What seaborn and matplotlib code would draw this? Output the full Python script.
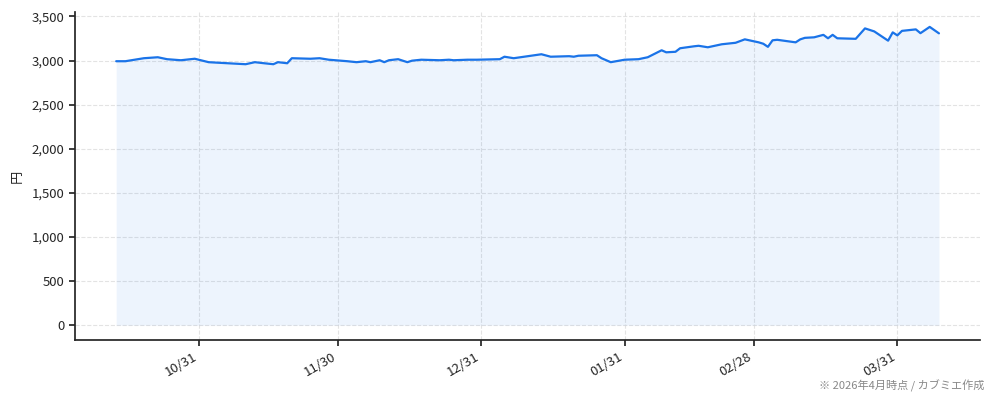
import pandas as pd
import matplotlib.pyplot as plt
import matplotlib.dates as mdates
from matplotlib.ticker import FuncFormatter
import seaborn as sns

# 株価の推移（画像から読み取った概算値）
dates = [
    "2025-10-13", "2025-10-15", "2025-10-19", "2025-10-22", "2025-10-24", "2025-10-27", "2025-10-30",
    "2025-11-02", "2025-11-04", "2025-11-10", "2025-11-12", "2025-11-14", "2025-11-16", "2025-11-17",
    "2025-11-19", "2025-11-20", "2025-11-24", "2025-11-26", "2025-11-28",
    "2025-12-02", "2025-12-04", "2025-12-06", "2025-12-07", "2025-12-09", "2025-12-10", "2025-12-11",
    "2025-12-13", "2025-12-15", "2025-12-16", "2025-12-18", "2025-12-22", "2025-12-24", "2025-12-25",
    "2025-12-28", "2025-12-30",
    "2026-01-04", "2026-01-05", "2026-01-07", "2026-01-13", "2026-01-15", "2026-01-19", "2026-01-20",
    "2026-01-21", "2026-01-25", "2026-01-26", "2026-01-28", "2026-01-31",
    "2026-02-03", "2026-02-05", "2026-02-08", "2026-02-09", "2026-02-11", "2026-02-12", "2026-02-15",
    "2026-02-16", "2026-02-18", "2026-02-21", "2026-02-24", "2026-02-26",
    "2026-03-01", "2026-03-02", "2026-03-03", "2026-03-04", "2026-03-05", "2026-03-09", "2026-03-10",
    "2026-03-11", "2026-03-13", "2026-03-15", "2026-03-16", "2026-03-17", "2026-03-18", "2026-03-22",
    "2026-03-24", "2026-03-26", "2026-03-29", "2026-03-30", "2026-03-31",
    "2026-04-01", "2026-04-04", "2026-04-05", "2026-04-07", "2026-04-09",
]
prices = [
    2992, 2992, 3026, 3037, 3015, 3003, 3020,
    2981, 2975, 2958, 2981, 2969, 2958, 2981,
    2969, 3026, 3020, 3026, 3009,
    2992, 2981, 2992, 2981, 3003, 2981, 3003,
    3015, 2981, 2998, 3009, 3003, 3009, 3003,
    3009, 3009,
    3015, 3043, 3026, 3071, 3043, 3049, 3043,
    3054, 3060, 3026, 2981, 3009,
    3015, 3037, 3116, 3093, 3099, 3139, 3161,
    3167, 3150, 3184, 3201, 3240,
    3206, 3190, 3155, 3229, 3235, 3206, 3240,
    3257, 3263, 3291, 3252, 3291, 3252, 3246,
    3364, 3330, 3225, 3319, 3285,
    3336, 3353, 3310, 3381, 3308,
]

df = pd.DataFrame({"日付": pd.to_datetime(dates), "終値": prices})

sns.set_theme(style="ticks")
plt.rcParams['font.family'] = ['Noto Sans CJK JP', 'DejaVu Sans']

fig = plt.figure(figsize=(9.94, 4), dpi=100)
ax = fig.add_axes([0.0755, 0.15, 0.9105, 0.82])

line_color = "#1a73e8"
sns.lineplot(data=df, x="日付", y="終値", color=line_color, linewidth=1.6, ax=ax)
ax.fill_between(df["日付"], df["終値"], 0, color=line_color, alpha=0.08, linewidth=0)

ax.xaxis.set_major_locator(mdates.MonthLocator(bymonthday=-1))
ax.xaxis.set_major_formatter(mdates.DateFormatter("%m/%d"))
ax.yaxis.set_major_formatter(FuncFormatter(lambda v, p: f"{int(v):,}"))
ax.set_yticks(range(0, 3501, 500))
ax.tick_params(axis="both", labelsize=9.5, length=4)
for lbl in ax.get_xticklabels():
    lbl.set_rotation(30)
    lbl.set_ha("right")

ax.grid(True, linestyle="--", color="#dcdcdc", linewidth=0.8, alpha=0.8)
ax.set_xlabel("")
ax.set_ylabel("円", fontsize=9.5, labelpad=6)
sns.despine(ax=ax)

fig.text(0.99, 0.02, "※ 2026年4月時点 / カブミエ作成", ha="right", va="bottom", fontsize=8, color="#888888")

fig.savefig("out.png", dpi=100)
